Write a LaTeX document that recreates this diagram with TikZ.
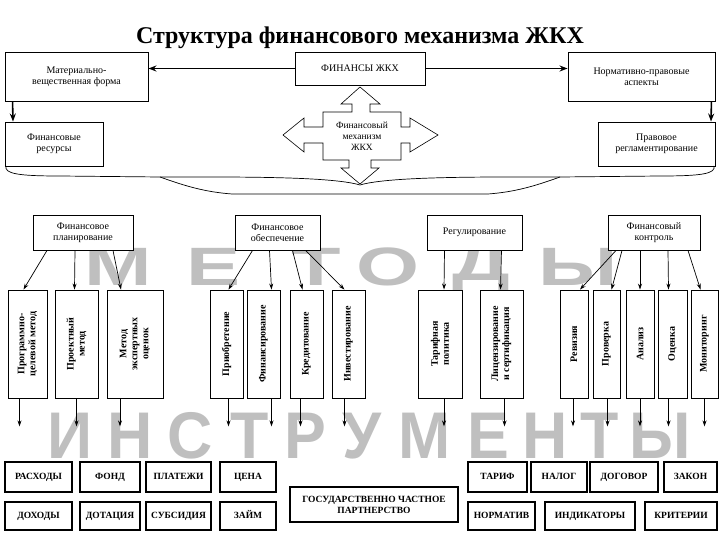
\documentclass[tikz,border=0pt]{standalone}
\usepackage{fontspec}
\setmainfont{Liberation Serif}
\setsansfont{Liberation Sans}
\usetikzlibrary{calc,arrows.meta}
\tikzset{
 box/.style={draw,line width=0.9pt,fill=white,align=center,inner sep=1pt,font=\fontsize{10}{11}\selectfont},
 vbox/.style={box,font=\fontsize{10}{11}\selectfont\bfseries},
 ibox/.style={box,line width=1.4pt,font=\fontsize{9.5}{11}\selectfont\bfseries,text height=7pt,text depth=2pt},
 arr/.style={-{Stealth[length=6pt,width=4pt]},line width=0.7pt},
 harr/.style={-{Stealth[length=8pt,width=6pt]},line width=1.6pt},
 big/.style={text=gray!50,font=\fontsize{54}{54}\selectfont\sffamily\bfseries,inner sep=0pt},
}
\newcommand\bx[7][]{\node[box,#1,minimum width={(#4-#2)*1pt},minimum height={(#5-#3)*1pt}] (#6) at ({(#2+#4)/2},{(#3+#5)/2}) {#7};}
\newcommand\vbx[6]{\node[vbox,rotate=90,minimum width={(#5-#3)*1pt},minimum height={(#4-#2)*1pt}] (#6) at ({(#2+#4)/2},{(#3+#5)/2}) {#1};}
\begin{document}
\begin{tikzpicture}[x=1pt,y=-1pt]
\useasboundingbox (0,0) rectangle (720,540);
\node[font=\fontsize{24}{26}\selectfont\bfseries] (title) at (360,38) {Структура финансового механизма ЖКХ};
% big background words
\foreach \l/\x in {М/118,Е/214,Т/316,О/388,Д/481,Ы/578}
  \node[big,xscale=1.5] (m\x) at (\x,267) {\l};
\foreach \l/\x in {И/70,Н/130,С/190,Т/250,Р/305,У/362,М/425,Е/488,Н/545,Т/600,Ы/660}
  \node[big,font=\fontsize{66}{66}\selectfont\sffamily\bfseries,xscale=0.95] (i\x) at (\x,436) {\l};
% top level
\bx{5}{52}{148}{101}{mat}{Материально-\\вещественная форма}
\bx{295}{52}{425}{85}{fin}{ФИНАНСЫ ЖКХ}
\bx{568}{52}{715}{101}{norm}{Нормативно-правовые\\аспекты}
\bx{5}{122}{103}{166}{res}{Финансовые\\ресурсы}
\bx{598}{122}{715}{166}{prav}{Правовое\\регламентирование}
\draw[harr] (fin.west) -- (mat.east |- fin.west);
\draw[harr] (fin.east) -- (norm.west |- fin.east);
\draw[harr] (mat.south west) ++(8,0) -- (res.north west -| 13,0);
\draw[harr] (norm.south east) ++(-4,0) -- (prav.north east -| 711,0);
% cross arrow
\draw[line width=0.6pt,fill=white] (360,87) -- (380,104) -- (370,104) -- (370,112) -- (401,112) -- (401,127)
 -- (410,127) -- (410,118) -- (438,135) -- (410,152) -- (410,143) -- (401,143) -- (401,160) -- (371,160) -- (371,168)
 -- (379,168) -- (360,184) -- (341,168) -- (349,168) -- (349,160) -- (323,160) -- (323,143) -- (304,143) -- (304,152)
 -- (283,135) -- (304,118) -- (304,127) -- (323,127) -- (323,112) -- (352,112) -- (352,104) -- (341,104) -- cycle;
\node[font=\fontsize{9.5}{11}\selectfont,align=center] (mech) at (362,136) {Финансовый\\механизм\\ЖКХ};
% brace
\draw[line width=0.7pt] (6,166) .. controls (4,174) and (20,176) .. (60,176) -- (160,177)
 .. controls (230,177) and (330,176) .. (360,185) .. controls (390,176) and (490,177) .. (560,177)
 -- (660,176) .. controls (700,176) and (716,174) .. (714,166);
\draw[line width=0.7pt] (160,177) .. controls (185,186) and (205,192) .. (232,194)
 -- (488,194) .. controls (515,192) and (535,186) .. (560,177);
% level 2
\bx{33}{215}{133}{250}{plan}{Финансовое\\планирование}
\bx{235}{215}{320}{250}{obes}{Финансовое\\обеспечение}
\bx{427}{215}{522}{250}{reg}{Регулирование}
\bx{608}{215}{700}{250}{kon}{Финансовый\\контроль}
% methods
\vbx{Программно-\\целевой метод}{8}{290}{47}{398}{v1}
\vbx{Проектный\\метод}{55}{290}{98}{398}{v2}
\vbx{Метод\\экспертных\\оценок}{107}{290}{163}{398}{v3}
\vbx{Приобретение}{210}{290}{243}{398}{v4}
\vbx{Финансирование}{247}{290}{280}{398}{v5}
\vbx{Кредитование}{290}{290}{323}{398}{v6}
\vbx{Инвестирование}{332}{290}{365}{398}{v7}
\vbx{Тарифная\\политика}{418}{290}{462}{398}{v8}
\vbx{Лицензирование\\и сертификация}{480}{290}{523}{398}{v9}
\vbx{Ревизия}{560}{290}{588}{398}{v10}
\vbx{Проверка}{593}{290}{620}{398}{v11}
\vbx{Анализ}{626}{290}{654}{398}{v12}
\vbx{Оценка}{658}{290}{687}{398}{v13}
\vbx{Мониторинг}{691}{290}{718}{398}{v14}
% level2 -> methods
\draw[arr] ($(plan.south)+(-36,0)$) -- ($(v1.east)+(-4,0)$);
\draw[arr] ($(plan.south)+(-8,0)$) -- ($(v2.east)+(-2,0)$);
\draw[arr] ($(plan.south)+(30,0)$) -- ($(v3.east)+(-14,0)$);
\draw[arr] ($(obes.south)+(-25,0)$) -- ($(v4.east)+(2,0)$);
\draw[arr] ($(obes.south)+(-8,0)$) -- ($(v5.east)+(8,0)$);
\draw[arr] ($(obes.south)+(15,0)$) -- ($(v6.east)+(-4,0)$);
\draw[arr] ($(obes.south)+(28,0)$) -- ($(v7.east)+(-4,0)$);
\draw[arr] ($(reg.south)+(-30,0)$) -- ($(v8.east)+(4,0)$);
\draw[arr] ($(reg.south)+(27,0)$) -- ($(v9.east)+(-1,0)$);
\draw[arr] ($(kon.south)+(-38,0)$) -- ($(v10.east)+(6,0)$);
\draw[arr] ($(kon.south)+(-32,0)$) -- ($(v11.east)+(5,0)$);
\draw[arr] ($(kon.south)+(-14,0)$) -- (v12.east);
\draw[arr] ($(kon.south)+(14,0)$) -- ($(v13.east)+(-4,0)$);
\draw[arr] ($(kon.south)+(34,0)$) -- ($(v14.east)+(-4,0)$);
% methods -> instruments
\foreach \v/\d in {v1/-8,v2/0,v3/-15,v4/2,v5/8,v6/-6,v7/-4,v8/4,v9/3,v10/-1,v11/1,v12/0,v13/-4,v14/0}
  \draw[arr] ($(\v.west)+(\d,0)$) coordinate (s\v) -- ++(0,28) coordinate (e\v);
% instruments
\bx[ibox]{5}{462}{72}{492}{b1}{РАСХОДЫ}
\bx[ibox]{80}{462}{140}{492}{b2}{ФОНД}
\bx[ibox]{146}{462}{211}{492}{b3}{ПЛАТЕЖИ}
\bx[ibox]{220}{462}{276}{492}{b4}{ЦЕНА}
\bx[ibox]{468}{462}{527}{492}{b5}{ТАРИФ}
\bx[ibox]{531}{462}{587}{492}{b6}{НАЛОГ}
\bx[ibox]{590}{462}{658}{492}{b7}{ДОГОВОР}
\bx[ibox]{664}{462}{717}{492}{b8}{ЗАКОН}
\bx[ibox]{5}{502}{72}{530}{c1}{ДОХОДЫ}
\bx[ibox]{80}{502}{140}{530}{c2}{ДОТАЦИЯ}
\bx[ibox]{146}{502}{211}{530}{c3}{СУБСИДИЯ}
\bx[ibox]{220}{502}{276}{530}{c4}{ЗАЙМ}
\bx[ibox]{468}{502}{535}{530}{c5}{НОРМАТИВ}
\bx[ibox]{545}{502}{635}{530}{c6}{ИНДИКАТОРЫ}
\bx[ibox]{645}{502}{717}{530}{c7}{КРИТЕРИИ}
\bx[box,line width=1.4pt,font=\fontsize{9.5}{11}\selectfont\bfseries]{290}{487}{458}{522}{gchp}{ГОСУДАРСТВЕННО ЧАСТНОЕ\\ПАРТНЕРСТВО}
\end{tikzpicture}
\end{document}
